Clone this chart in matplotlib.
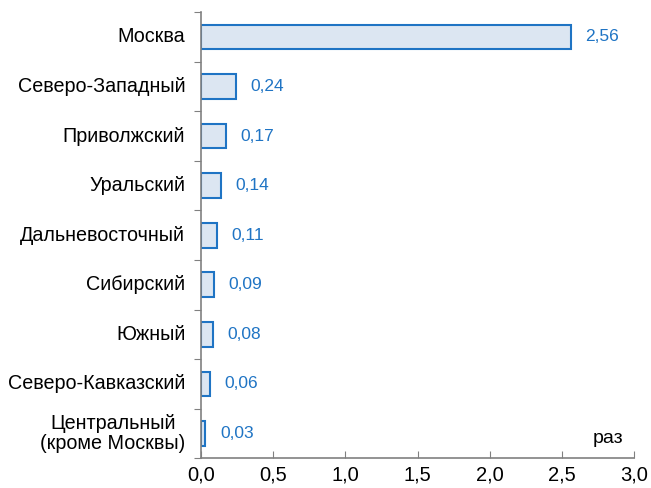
import matplotlib.pyplot as plt
import numpy as np

plt.rcParams['font.family'] = ['Liberation Sans', 'DejaVu Sans']

regions = ['Москва', 'Северо-Западный', 'Приволжский', 'Уральский',
           'Дальневосточный', 'Сибирский', 'Южный', 'Северо-Кавказский',
           'Центральный\n(кроме Москвы)']
values = [2.56, 0.24, 0.17, 0.14, 0.11, 0.09, 0.08, 0.06, 0.03]
xticks = [0.0, 0.5, 1.0, 1.5, 2.0, 2.5, 3.0]

edge = '#1F74C4'
fill = '#DCE6F2'
grey = '#808080'

fig = plt.figure(figsize=(6.51, 4.88), dpi=100)
ax = fig.add_axes([0.309, 0.061, 0.665, 0.914])

pos = np.arange(len(regions))
ax.barh(pos, values, height=0.5, color=fill, edgecolor=edge, linewidth=1.5)
for p, v in zip(pos, values):
    ax.text(v + 0.1, p, ('%.2f' % v).replace('.', ','), color=edge,
            fontsize=12.5, va='center', ha='left')

ax.set_xlim(0, 3.0)
ax.set_ylim(len(regions) - 0.5, -0.5)
ax.set_xticks(xticks)
ax.set_xticklabels([('%.1f' % t).replace('.', ',') for t in xticks], fontsize=14.5)
ax.tick_params(axis='x', direction='in', length=5, color=grey, pad=5)

# category labels centred on bars, tick marks at boundaries
ax.set_yticks(np.arange(-0.5, len(regions), 1.0))
ax.set_yticklabels([])
ax.tick_params(axis='y', direction='out', length=5, color=grey)
for p, name in zip(pos, regions):
    ax.text(-0.11, p, name, ha='right', va='center', fontsize=14.2,
            clip_on=False, multialignment='center', linespacing=1.1)

for s in ['top', 'right']:
    ax.spines[s].set_visible(False)
for s in ['left', 'bottom']:
    ax.spines[s].set_color(grey)
    ax.spines[s].set_linewidth(1.2)

ax.text(2.71, 8.1, 'раз', fontsize=14, ha='left', va='center')

fig.savefig('out.png', dpi=100)
